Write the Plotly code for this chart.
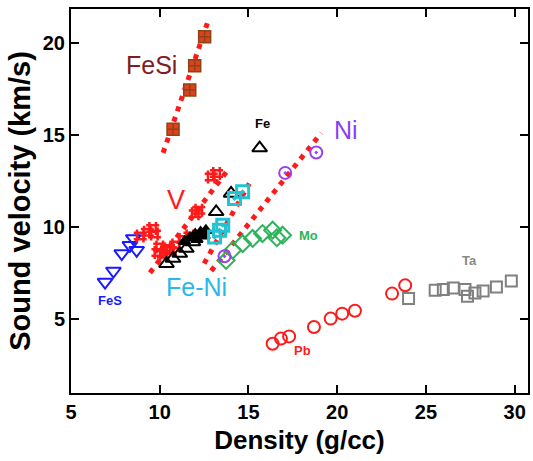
import plotly.graph_objects as go

# ---- data (density g/cc, sound velocity km/s) ----
fesi_x = [10.75, 11.69, 11.97, 12.53]
fesi_y = [15.3, 17.44, 18.76, 20.34]

v_x = [8.9, 9.3, 9.6, 9.7, 9.9, 10.0, 10.2, 10.4, 10.6, 10.9, 11.3, 11.7, 12.0, 12.2, 12.9, 13.2]
v_y = [9.5, 9.7, 9.9, 9.6, 8.6, 8.9, 8.5, 8.8, 8.7, 9.0, 9.3, 9.5, 10.7, 10.9, 12.7, 12.9]

fe_x = [10.38, 10.75, 11.13, 11.5, 11.87, 13.18, 14.02, 15.63]
fe_y = [7.99, 8.27, 8.54, 8.81, 9.17, 10.81, 11.81, 14.28]
fe_dense_x = [11.4, 11.7, 12.0, 12.3, 12.6, 12.1, 12.5]
fe_dense_y = [9.2, 9.4, 9.6, 9.7, 9.8, 9.3, 9.5]

feni_x = [13.09, 13.37, 13.55, 14.21, 14.67]
feni_y = [9.44, 9.81, 10.08, 11.54, 11.9]

ni_x = [13.65, 17.07, 18.82]
ni_y = [8.39, 12.93, 14.04]

fes_x = [6.92, 7.39, 7.86, 8.32, 8.51, 8.70]
fes_y = [6.99, 7.59, 8.54, 8.99, 9.36, 8.72]

mo_x = [13.74, 14.11, 14.67, 15.23, 15.79, 16.36, 16.92, 16.6]
mo_y = [8.17, 8.72, 9.08, 9.36, 9.63, 9.81, 9.54, 9.4]

pb_x = [16.36, 16.83, 17.29, 18.69, 19.63, 20.28, 21.0, 23.09, 23.83]
pb_y = [3.63, 3.91, 4.03, 4.54, 5.0, 5.27, 5.43, 6.36, 6.81]

ta_x = [24.02, 25.52, 25.98, 26.54, 27.2, 27.34, 27.76, 28.22, 28.97, 29.81]
ta_y = [6.09, 6.54, 6.58, 6.67, 6.58, 6.21, 6.39, 6.5, 6.72, 7.05]

# trend (dotted) lines: endpoints
fesi_fit_x = [10.19, 12.71]
fesi_fit_y = [14.02, 21.16]
v_fit_x = [9.45, 13.85]
v_fit_y = [7.5, 13.1]
feni_fit_x = [12.5, 15.05]
feni_fit_y = [8.0, 12.35]
ni_fit_x = [12.9, 19.1]
ni_fit_y = [7.6, 15.1]

fig = go.Figure()

RED = "#ff1a1a"
dotline = dict(color=RED, width=5, dash="5px,6px")
for fx, fy in [(fesi_fit_x, fesi_fit_y), (v_fit_x, v_fit_y),
               (feni_fit_x, feni_fit_y), (ni_fit_x, ni_fit_y)]:
    fig.add_trace(go.Scatter(x=fx, y=fy, mode="lines", line=dotline,
                             showlegend=False, hoverinfo="skip"))

def mk(x, y, symbol, color, size=12, lw=2, fill=None, linecolor=None):
    m = dict(symbol=symbol, size=size, color=fill if fill else color,
             line=dict(color=linecolor if linecolor else color, width=lw))
    fig.add_trace(go.Scatter(x=x, y=y, mode="markers", marker=m, showlegend=False))

mk(fes_x, fes_y, "triangle-down-open", "#1a1aff", size=13)
mk(v_x, v_y, "hash", RED, size=13, lw=2.5, fill=RED, linecolor=RED)
mk(fe_x, fe_y, "triangle-up-open", "#000000", size=13)
mk(fe_dense_x, fe_dense_y, "triangle-up", "#000000", size=10)
mk(feni_x, feni_y, "square-open-dot", "#22c3d3", size=12, lw=3)
mk(mo_x, mo_y, "diamond-open", "#2db35a", size=13)
mk(ni_x, ni_y, "circle-open-dot", "#9b3ff5", size=12)
mk(pb_x, pb_y, "circle-open", RED, size=12)
mk(ta_x, ta_y, "square-open", "#808080", size=11)
mk(fesi_x, fesi_y, "square-cross", "#e04020", size=12, lw=1.5,
   fill="#e04020", linecolor="#8b4513")

FONT = "Liberation Sans, Arial, sans-serif"
labels = [
    ("FeSi", 9.54, 18.8, "#7f1d1d", 25, False),
    ("V", 10.94, 11.45, RED, 27, False),
    ("Ni", 20.47, 15.26, "#8a3ff0", 25, False),
    ("Fe-Ni", 12.09, 6.7, "#2ab7ea", 25, False),
    ("Fe", 15.79, 15.6, "#000000", 13, True),
    ("Mo", 18.41, 9.54, "#2db35a", 13, True),
    ("FeS", 7.2, 6.0, "#1a1aff", 13, True),
    ("Pb", 18.04, 3.27, RED, 13, True),
    ("Ta", 27.48, 8.17, "#888888", 13, True),
]
for t, x, y, c, s, b in labels:
    fig.add_annotation(x=x, y=y, xref="x", yref="y", showarrow=False,
                       text=f"<b>{t}</b>" if b else t,
                       font=dict(family=FONT, size=s, color=c))

axis_common = dict(showline=True, linecolor="black", linewidth=2, mirror="ticks",
                   ticks="inside", ticklen=8, tickwidth=2, tickcolor="black",
                   showgrid=False, zeroline=False,
                   tickfont=dict(family=FONT, size=20, color="black", weight="bold"))

fig.update_layout(
    width=533, height=461,
    margin=dict(l=71, r=3, t=9, b=68),
    paper_bgcolor="white", plot_bgcolor="white",
    xaxis=dict(range=[5, 30.75], tickvals=[5, 10, 15, 20, 25, 30],
               title=dict(text="<b>Density (g/cc)</b>", standoff=9,
                          font=dict(family=FONT, size=26, color="black")),
               **axis_common),
    yaxis=dict(range=[0.95, 21.85], tickvals=[5, 10, 15, 20],
               title=dict(text="<b>Sound velocity (km/s)</b>", standoff=4,
                          font=dict(family=FONT, size=29, color="black")),
               **axis_common),
)

# remove the browser's default 8px body margin so the figure fills the window
fig.write_html("out.html",
               config={"displayModeBar": False},
               post_script="document.body.style.margin='0px';"
                           "document.body.style.overflow='hidden';")
